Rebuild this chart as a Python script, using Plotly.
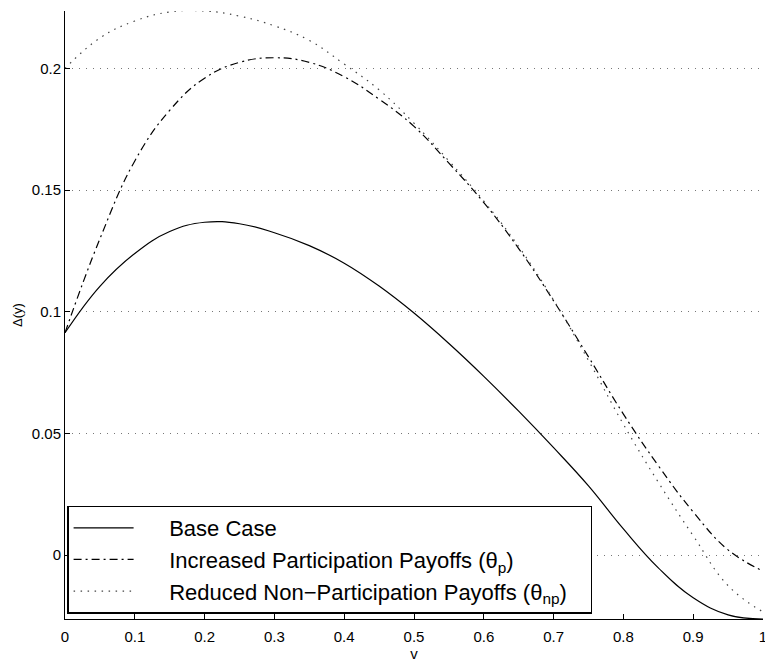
import plotly.graph_objects as go

# Sample points along v for the three scenarios
v = [0.00, 0.05, 0.10, 0.15, 0.20, 0.25, 0.30, 0.35, 0.40, 0.45, 0.50,
     0.55, 0.60, 0.65, 0.70, 0.75, 0.80, 0.85, 0.90, 0.95, 1.00]

base_case = [0.0914, 0.1105, 0.1240, 0.1330, 0.1368, 0.1362, 0.1325, 0.1272, 0.1200, 0.1106, 0.0995,
             0.0870, 0.0735, 0.0592, 0.0442, 0.0285, 0.0108, -0.0052, -0.0175, -0.0245, -0.0262]

increased_participation = [0.0914, 0.1300, 0.1620, 0.1828, 0.1960, 0.2025, 0.2044, 0.2025, 0.1966, 0.1874, 0.1762,
                           0.1611, 0.1449, 0.1260, 0.1045, 0.0815, 0.0580, 0.0368, 0.0178, 0.0022, -0.0065]

reduced_non_participation = [0.2000, 0.2125, 0.2195, 0.2232, 0.2236, 0.2215, 0.2175, 0.2115, 0.2018, 0.1912, 0.1775,
                             0.1620, 0.1455, 0.1268, 0.1048, 0.0800, 0.0538, 0.0300, 0.0080, -0.0125, -0.0233]

x_ticks = [0, 0.1, 0.2, 0.3, 0.4, 0.5, 0.6, 0.7, 0.8, 0.9, 1]
y_ticks = [0, 0.05, 0.1, 0.15, 0.2]

series_names = [
    "Base Case",
    "Increased Participation Payoffs (θ<sub>p</sub>)",
    "Reduced Non−Participation Payoffs (θ<sub>np</sub>)",
]

FONT = "Liberation Sans, Arial, Helvetica, sans-serif"
NBSP = "&nbsp;"
LEAD = NBSP * 5   # gap between the legend sample line and its label
TAIL = NBSP * 3   # extra room on the right of the legend box


def legend_label(name, pad_right=False):
    return LEAD + name + (TAIL if pad_right else "")


fig = go.Figure()
fig.add_trace(go.Scatter(
    x=v, y=base_case, mode="lines", name=legend_label(series_names[0]),
    line=dict(color="black", width=1.2, shape="spline", smoothing=1.2),
))
fig.add_trace(go.Scatter(
    x=v, y=increased_participation, mode="lines", name=legend_label(series_names[1]),
    line=dict(color="black", width=1.2, dash="8px,4px,2px,4px", shape="spline", smoothing=1.2),
))
fig.add_trace(go.Scatter(
    x=v, y=reduced_non_participation, mode="lines", name=legend_label(series_names[2], True),
    line=dict(color="#444", width=1.2, dash="1.5px,5.5px", shape="spline", smoothing=1.2),
))

all_y = base_case + increased_participation + reduced_non_participation
y_lo, y_hi = min(all_y), max(all_y)

fig.update_layout(
    width=765, height=662,
    margin=dict(l=65, r=2, t=11, b=43, autoexpand=False),
    paper_bgcolor="white", plot_bgcolor="white",
    font=dict(family=FONT, color="black", size=15),
    showlegend=True,
    legend=dict(
        x=0.003, y=0.009, xanchor="left", yanchor="bottom",
        bgcolor="white", bordercolor="black", borderwidth=1.5,
        font=dict(family=FONT, size=22, color="black"),
        itemwidth=60, tracegroupgap=0,
    ),
    xaxis=dict(
        range=[0, 1], tickvals=x_ticks, ticks="inside", ticklen=5, tickcolor="black",
        showline=True, linecolor="black", linewidth=1, mirror=False,
        showgrid=False, zeroline=False,
        tickfont=dict(size=15), ticklabelstandoff=4, ticklabeloverflow="allow",
        title=dict(text="v", font=dict(size=15), standoff=3),
    ),
    yaxis=dict(
        range=[y_lo, y_hi], tickvals=y_ticks, ticks="inside", ticklen=5, tickcolor="black",
        showline=True, linecolor="black", linewidth=1, mirror=False,
        showgrid=True, gridcolor="#777", gridwidth=1, griddash="1px,6px",
        zeroline=False,
        tickfont=dict(size=15),
        title=dict(text="Δ(y)", font=dict(size=13), standoff=6),
    ),
)

fig.write_html("out.html")
